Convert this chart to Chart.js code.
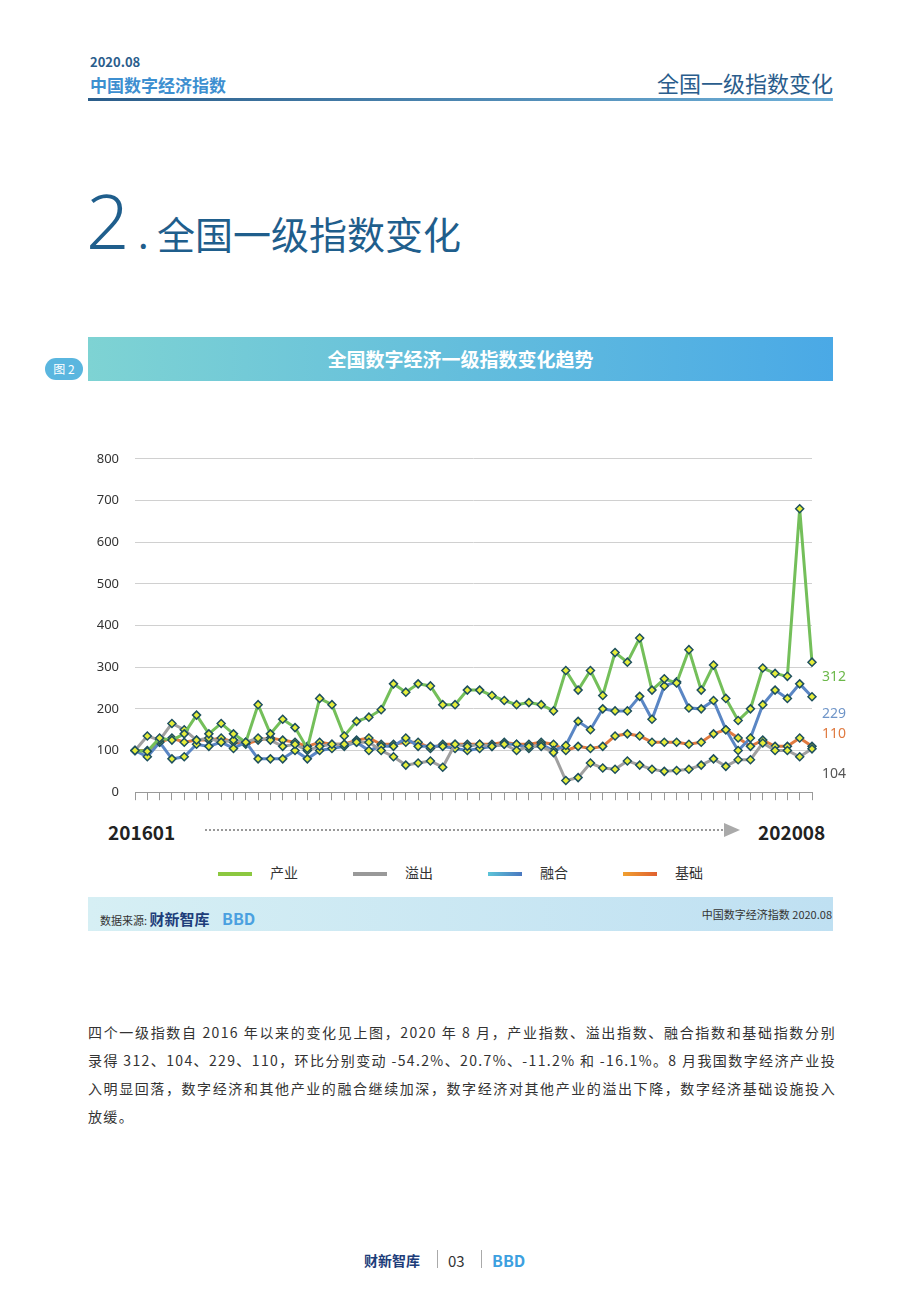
<!DOCTYPE html>
<html><head><meta charset="utf-8">
<script src="https://cdn.jsdelivr.net/npm/chart.js@4"></script>
<style>
body{margin:0;width:920px;height:1302px;background:#fff;font-family:"Noto Sans CJK SC","Noto Sans",sans-serif;position:relative;overflow:hidden}
.abs{position:absolute}
</style></head><body>
<div class="abs" style="left:90px;top:52px;font-size:13px;font-weight:bold;color:#2a5d8c">2020.08</div>
<div class="abs" style="left:90px;top:72px;font-size:17px;font-weight:bold;color:#3d8fd0">中国数字经济指数</div>
<div class="abs" style="right:87px;top:66px;font-size:22px;color:#2a5d8c">全国一级指数变化</div>
<div class="abs" style="left:88px;top:98px;width:745px;height:3px;background:linear-gradient(90deg,#2b5d8a,#6fb0d8)"></div>
<div class="abs" style="left:86px;top:180px;font-size:76px;font-family:'Noto Sans';font-weight:300;color:#1f5e8c;line-height:80px">2</div>
<div class="abs" style="left:138px;top:205px;font-size:38px;color:#1f5e8c">. 全国一级指数变化</div>
<div class="abs" style="left:45px;top:358px;width:38px;height:22px;border-radius:11px;background:#5ab6df;color:#fff;font-size:12px;text-align:center;line-height:22px">图 2</div>
<div class="abs" style="left:88px;top:337px;width:745px;height:44px;background:linear-gradient(90deg,#7ed3d3,#4aa9e6);color:#fff;font-size:19px;font-weight:bold;text-align:center;line-height:44px">全国数字经济一级指数变化趋势</div>
<div class="abs" style="left:90px;top:435px;width:760px;height:381px"><canvas id="c"></canvas></div>
<div class="abs" style="left:108px;top:818px;font-size:19px;font-weight:bold;color:#222">201601</div>
<div class="abs" style="left:205px;top:829px;width:518px;border-top:2px dotted #999"></div>
<div class="abs" style="left:724px;top:823px;width:0;height:0;border-left:16px solid #aaa;border-top:7px solid transparent;border-bottom:7px solid transparent"></div>
<div class="abs" style="left:758px;top:818px;font-size:19px;font-weight:bold;color:#222">202008</div>
<div class="abs" style="left:218px;top:862px;font-size:14px;color:#333;display:flex;gap:0">
<span style="width:135px"><span style="display:inline-block;width:34px;height:4px;background:#8cc840;vertical-align:middle;margin-right:18px"></span>产业</span>
<span style="width:135px"><span style="display:inline-block;width:34px;height:4px;background:#999;vertical-align:middle;margin-right:18px"></span>溢出</span>
<span style="width:135px"><span style="display:inline-block;width:34px;height:4px;background:linear-gradient(90deg,#5cc4d8,#4a78c0);vertical-align:middle;margin-right:18px"></span>融合</span>
<span><span style="display:inline-block;width:34px;height:4px;background:linear-gradient(90deg,#f0a030,#e06030);vertical-align:middle;margin-right:18px"></span>基础</span></div>
<div class="abs" style="left:88px;top:897px;width:745px;height:34px;background:linear-gradient(90deg,#d6eff4,#bfe0f2)"></div>
<div class="abs" style="left:100px;top:906px;font-size:11px;color:#333">数据来源: <b style="font-size:15px;color:#1d3d7a">财新智库</b> <b style="font-size:16px;color:#4aa0e0;margin-left:10px">BBD</b></div>
<div class="abs" style="right:88px;top:906px;font-size:11px;color:#333">中国数字经济指数 2020.08</div>
<div class="abs" style="left:88px;top:1018px;width:748px;font-size:14px;letter-spacing:1.35px;line-height:28px;color:#333;text-align:justify">四个一级指数自 2016 年以来的变化见上图，2020 年 8 月，产业指数、溢出指数、融合指数和基础指数分别录得 312、104、229、110，环比分别变动 -54.2%、20.7%、-11.2% 和 -16.1%。8 月我国数字经济产业投入明显回落，数字经济和其他产业的融合继续加深，数字经济对其他产业的溢出下降，数字经济基础设施投入放缓。</div>
<div class="abs" style="left:364px;top:1250px;font-size:14px;font-weight:bold;color:#1d3d7a">财新智库</div>
<div class="abs" style="left:437px;top:1250px;height:18px;border-left:1px solid #aaa"></div>
<div class="abs" style="left:448px;top:1250px;font-size:15px;color:#333">03</div>
<div class="abs" style="left:481px;top:1250px;height:18px;border-left:1px solid #aaa"></div>
<div class="abs" style="left:492px;top:1248px;font-size:16px;font-weight:bold;color:#3ca0e0">BBD</div>
<script>
const months=[];for(let y=2016;y<=2020;y++)for(let m=1;m<=12;m++){if(y===2020&&m>8)break;months.push(y+String(m).padStart(2,'0'));}
const industry=[100,98,130,125,140,185,140,165,140,120,210,140,175,155,105,225,210,135,170,180,198,260,240,260,255,210,210,245,245,232,220,210,215,210,195,292,245,292,232,335,312,370,245,272,262,342,245,305,225,172,200,298,285,278,680,312];
const spill=[100,135,125,165,150,125,130,120,125,120,130,125,110,115,100,110,115,115,120,120,100,85,65,70,75,60,115,110,115,110,115,100,110,110,95,28,35,70,58,55,75,65,55,50,52,55,65,80,62,78,78,118,100,100,85,104];
const fusion=[100,85,120,80,85,115,110,120,105,120,80,80,80,100,80,100,105,110,120,100,110,110,130,110,110,110,105,100,105,110,115,115,105,115,100,112,170,150,200,195,195,230,175,255,265,202,200,220,150,100,130,210,245,225,260,229];
const base=[100,100,120,130,120,125,125,130,120,115,125,130,125,120,110,120,115,115,125,130,115,115,120,120,105,115,115,115,115,115,120,115,115,120,115,100,110,105,110,135,140,135,120,120,120,115,120,140,150,130,110,125,110,110,130,110];
const yTicks=[0,100,200,300,400,500,600,700,800];
const mk=(d,c)=>({data:d,borderColor:c,borderWidth:3,pointStyle:'rectRot',pointRadius:4,pointBackgroundColor:'#e6ee3a',pointBorderColor:'#1d4f5e',pointBorderWidth:1.5,tension:0,clip:false});
const endLabels={id:'el',afterDatasetsDraw(ch){const ctx=ch.ctx;ctx.font='14px "Noto Sans"';ctx.textAlign='left';
const cols=['#6cb84a','#555','#6f95c8','#e07a40'];
ch.data.datasets.forEach((ds,i)=>{ctx.fillStyle=cols[i];
const ys=[676,773,713,733][i];ctx.fillText(ds.data[ds.data.length-1],ch.chartArea.right+10,ys-435+5);});}};
new Chart(document.getElementById('c'),{type:'line',data:{labels:months,datasets:[mk(industry,'#74bf5a'),mk(spill,'#a0a0a0'),mk(fusion,'#5a86c4'),mk(base,'#e07a40')]},
options:{responsive:true,maintainAspectRatio:false,animation:false,layout:{padding:{left:0,right:38,top:10,bottom:0}},
plugins:{legend:{display:false},tooltip:{enabled:false}},
scales:{x:{offset:false,grid:{display:true,drawOnChartArea:false,drawTicks:true,tickLength:8,color:'#999',tickColor:'#999'},border:{color:'#999'},ticks:{callback:()=>'',autoSkip:false,maxRotation:0},afterFit:s=>{s.height=18}},
y:{min:0,max:800,afterBuildTicks:a=>{a.ticks=yTicks.map(v=>({value:v}))},grid:{color:'#d0d0d0',borderDash:[1,3],drawTicks:false},border:{display:false},ticks:{color:'#333',font:{size:13,family:'Noto Sans'},padding:16},afterFit:s=>{s.width=45}}}},plugins:[endLabels]});
</script></body></html>
